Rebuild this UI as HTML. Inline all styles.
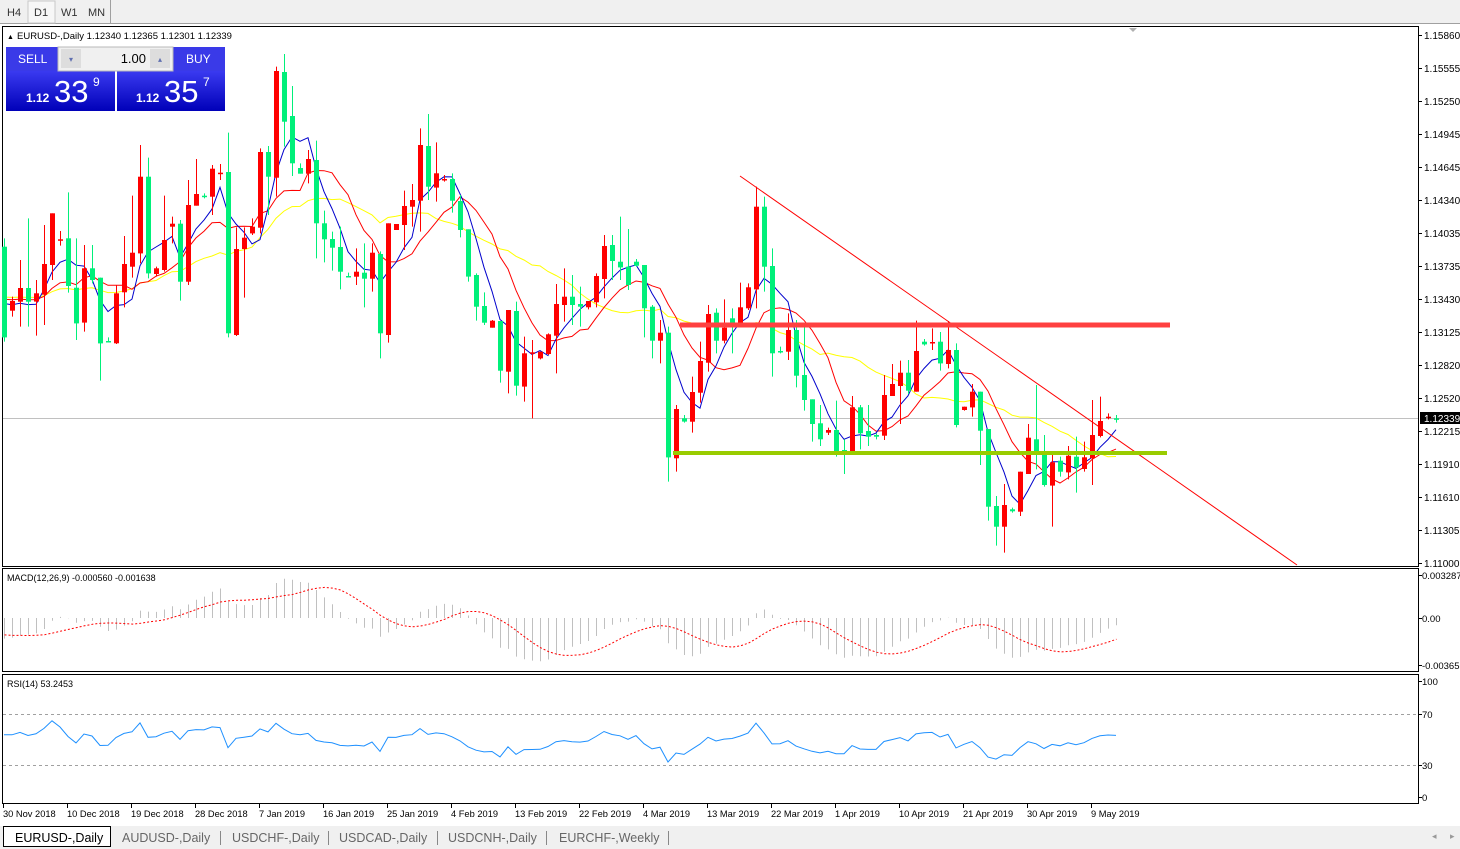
<!DOCTYPE html>
<html><head><meta charset="utf-8">
<style>
html,body{margin:0;padding:0;background:#fff;width:1460px;height:849px;overflow:hidden;font-family:"Liberation Sans",sans-serif}
svg{position:absolute;left:0;top:0}
</style></head><body>
<svg id="s" width="1460" height="849" xmlns="http://www.w3.org/2000/svg" font-family="Liberation Sans, sans-serif">
<rect x="0" y="0" width="1460" height="24" fill="#f0f0f0"/>
<line x1="0" y1="23.5" x2="1460" y2="23.5" stroke="#a0a0a0"/>
<rect x="28" y="1" width="27" height="22" fill="#f7f7f7" stroke="#c8c8c8"/>
<line x1="110.5" y1="0" x2="110.5" y2="24" stroke="#a0a0a0"/>
<text x="7" y="16" font-size="11" fill="#333">H4</text>
<text x="34" y="16" font-size="11" fill="#333">D1</text>
<text x="61" y="16" font-size="11" fill="#333">W1</text>
<text x="88" y="16" font-size="11" fill="#333">MN</text>
<rect x="2.5" y="26.5" width="1416" height="540" fill="none" stroke="#000"/>
<rect x="2.5" y="568.5" width="1416" height="103" fill="none" stroke="#000"/>
<rect x="2.5" y="674.5" width="1416" height="129" fill="none" stroke="#000"/>
<g id="g"></g>
</svg>
<script>
var g=document.getElementById('g'),h='';
function L(a,b,c,d,col,w,extra){h+='<line x1="'+a+'" y1="'+b+'" x2="'+c+'" y2="'+d+'" stroke="'+col+'" stroke-width="'+(w||1)+'" '+(extra||'')+'/>';}
function T(x,y,t,s,col,anchor,extra){h+='<text x="'+x+'" y="'+y+'" font-size="'+s+'" fill="'+(col||'#000')+'"'+(anchor?' text-anchor="'+anchor+'"':'')+' '+(extra||'')+'>'+t+'</text>';}
var z4=[['g',590,862,565,875],['r',753,782,740,800],['r',714,755,630,830],['g',714,755,505,830],['r',730,755,690,857],['r',642,734,525,825],['r',490,645,490,690],['r',568,572,543,587],['g',565,708,427,728],['g',713,820,565,870],['r',655,818,585,845],['g',655,690,585,700],['g',683,880,683,992],['g',873,877,862,877],['r',730,880,705,882],['r',642,727,558,772],['r',608,650,437,683],['r',380,610,285,640],['g',380,670,323,685],['r',655,672,650,680],['r',570,660,437,665],['r',521,530,500,580],['g',521,695,510,752],['r',465,695,390,705],['r',432,467,327,467],['g',437,439,430,445],['r',356,440,345,495],['r',368,372,342,390],['g',366,850,248,862],['r',597,855,532,858],['r',563,597,532,743],['r',530,550,505,555],['r',306,533,295,550],['g',306,380,288,495],['r',63,383,50,440],['g',66,215,12,290],['g',198,340,108,378],['g',354,371,340,371],['r',327,371,300,400],['g',330,520,272,625],['g',520,568,482,637],['g',567,593,545,662],['g',591,665,530,718],['g',678,680,668,680],['r',665,680,595,705],['g',668,686,580,772],['r',608,686,580,725]];
var z5=[['g',462,700,454,775],['r',370,705,370,728],['r',372,390,372,390],['r',318,375,272,450],['r',300,320,252,380],['r',135,302,85,395],['g',138,260,42,300],['r',220,263,127,305],['r',237,239,225,245],['g',237,302,220,338],['g',303,390,285,412],['g',388,530,388,545],['g',525,620,520,662],['g',618,668,577,675],['r',662,683,660,683],['g',663,812,663,848],['r',630,815,630,880],['g',633,857,605,887],['r',760,860,710,905],['r',757,761,720,955],['r',755,775,755,778],['r',703,762,700,765],['r',612,707,552,820],['r',590,615,505,665],['g',590,615,525,675],['g',612,620,560,680],['r',603,622,603,628],['r',528,607,520,622],['r',438,537,405,595],['g',435,483,405,540],['g',485,502,350,540],['g',500,555,387,570],['g',485,497,477,500],['g',495,625,495,712],['g',620,722,615,775],['r',698,722,660,790],['g',698,1072,680,1145],['r',927,1075,915,1115],['g',955,965,945,968],['r',876,965,830,998],['r',783,878,725,908],['r',642,788,615,815],['g',638,722,625,760],['r',683,722,598,730],['g',655,670,625,760],['r',622,670,548,672]];
var z6=[['r',352,415,340,420],['r',110,358,50,415],['g',110,290,80,365],['g',288,550,235,620],['g',543,547,530,550],['r',480,545,430,570],['g',480,617,450,652],['g',615,690,460,722],['g',688,762,688,815],['g',760,808,705,828],['r',780,788,773,795],['g',780,845,692,860],['g',840,845,808,912],['r',712,845,678,845],['g',712,790,705,838],['g',783,800,705,828],['g',795,800,790,808],['r',675,797,615,810],['r',642,678,582,678],['r',608,648,572,762],['g',608,662,570,672],['r',543,665,452,665],['g',515,523,507,527],['r',516,520,475,540],['g',515,580,486,602],['r',540,582,453,595],['g',540,765,520,772],['r',710,720,710,722],['r',665,712,642,740],['g',665,782,665,885],['g',777,1010,777,1052],['g',1008,1070,978,1127],['r',1005,1070,942,1148],['g',1018,1024,1013,1028],['r',905,1025,905,1038],['r',803,912,762,912],['g',808,845,645,898],['g',845,945,795,950],['r',877,947,855,1070],['g',872,905,860,920],['r',857,907,828,928],['g',860,892,800,968],['r',862,897,815,905],['r',795,865,690,945],['r',753,798,680,802],['r',740,743,730,748],['g',745,746,735,758]];
var C=[];
function add(arr,off){arr.forEach(function(a){C.push([a[0],a[1]/3+off,a[2]/3+off,a[3]/3+off,a[4]/3+off]);});}
add(z4,50);add(z5,100);add(z6,170);
function P(y){return 1.11+(563-y)/10864;}
var closes=[];var N0=60;
for(var k=0;k<N0;k++)closes.push(P(180+k*2.0+((k%2)?12:-12)));
C.forEach(function(c){closes.push(P(c[0]=='r'?c[1]:c[2]));});
function ema(arr,n){var a=2/(n+1),o=[arr[0]];for(var i=1;i<arr.length;i++)o.push(o[i-1]+a*(arr[i]-o[i-1]));return o;}
function sma(arr,n){var o=[];for(var i=0;i<arr.length;i++){var s=0,m=0;for(var j=Math.max(0,i-n+1);j<=i;j++){s+=arr[j];m++;}o.push(s/m);}return o;}
function Y(p){return 563-(p-1.11)*10864;}
function X(i){return 4+8*i;}
L(3,418.5,1418,418.5,'#c0c0c0');
function poly(arr,col,st){var pts=[];for(var i=(st||N0);i<arr.length;i++)pts.push(X(i-N0)+','+Y(arr[i]).toFixed(1));h+='<polyline points="'+pts.join(' ')+'" fill="none" stroke="'+col+'" stroke-width="1"/>';}
// MAs: use real data only (prehistory replaced by first close) for price MAs
var cm=closes.slice();for(var k=0;k<N0;k++)cm[k]=P(295);
poly(sma(cm,20),'#ffff00');poly(sma(cm,10),'#ff0000');poly(sma(cm,5),'#0000cc');
C.forEach(function(c,i){var x=X(i),col=c[0]=='r'?'#ff0000':'#00f07a';L(x+0.5,c[3],x+0.5,c[4],col);var t=c[1],b=Math.max(c[2],c[1]+1.5);h+='<rect x="'+(x-2)+'" y="'+t.toFixed(1)+'" width="5" height="'+(b-t).toFixed(1)+'" fill="'+col+'"/>';});
L(740,176,1297,565,'#ff0000',1);
L(680,325,1170,325,'#ff4040',5);
L(673,453,1167,453,'#99cc00',4);
var pl=[['1.15860',35],['1.15555',68],['1.15250',101],['1.14945',134],['1.14645',167],['1.14340',200],['1.14035',233],['1.13735',266],['1.13430',299],['1.13125',332],['1.12820',365],['1.12520',398],['1.12215',431],['1.11910',464],['1.11610',497],['1.11305',530],['1.11000',563]];
pl.forEach(function(p){L(1418,p[1]+0.5,1422,p[1]+0.5,'#000');T(1424,p[1]+4,p[0],10);});
h+='<rect x="1420" y="412" width="40" height="12" fill="#000"/>';T(1424,422,'1.12339',10,'#fff');
h+='<polygon points="1129,28 1137,28 1133,32" fill="#b0b0b0"/>';
// MACD
var e12=ema(closes,12),e26=ema(closes,26),m=[];for(var i=0;i<closes.length;i++)m.push(e12[i]-e26[i]);
var sg=sma(m,9);
function MY(v){return Math.max(570,Math.min(670,618-v*12957));}
var sp=[];
for(var i=N0;i<closes.length;i++){var x=X(i-N0)+0.5;L(x,618,x,MY(m[i]).toFixed(1),'#c0c0c0');sp.push(x+','+MY(sg[i]).toFixed(1));}
h+='<polyline points="'+sp.join(' ')+'" fill="none" stroke="#ff0000" stroke-width="1" stroke-dasharray="2,2"/>';
T(7,581,'MACD(12,26,9) -0.000560 -0.001638',9);
[['0.003287',575],['0.00',618],['-0.003659',665]].forEach(function(p){L(1418,p[1]+0.5,1422,p[1]+0.5,'#000');T(1422,p[1]+4,p[0],9.5);});
// RSI on real data with seeds
var ag=0.0009,al=0.0010,rs=[];
for(var i=N0+1;i<closes.length;i++){var d=closes[i]-closes[i-1];var gn=d>0?d:0,ls=d<0?-d:0;ag=(ag*13+gn)/14;al=(al*13+ls)/14;rs[i]=100-100/(1+ag/al);}
rs[N0]=rs[N0+1];
L(3,714.5,1418,714.5,'#a0a0a0',1,'stroke-dasharray="3,3"');
L(3,765.5,1418,765.5,'#a0a0a0',1,'stroke-dasharray="3,3"');
var rp=[];for(var i=N0;i<closes.length;i++)rp.push(X(i-N0)+','+(797-rs[i]*1.16).toFixed(1));
h+='<polyline points="'+rp.join(' ')+'" fill="none" stroke="#1e90ff" stroke-width="1"/>';
T(7,687,'RSI(14) 53.2453',9);
[['100',681],['70',714],['30',765],['0',797]].forEach(function(p){L(1418,p[1]+0.5,1422,p[1]+0.5,'#000');T(1422,p[1]+4,p[0],9.5);});
var dl=['30 Nov 2018','10 Dec 2018','19 Dec 2018','28 Dec 2018','7 Jan 2019','16 Jan 2019','25 Jan 2019','4 Feb 2019','13 Feb 2019','22 Feb 2019','4 Mar 2019','13 Mar 2019','22 Mar 2019','1 Apr 2019','10 Apr 2019','21 Apr 2019','30 Apr 2019','9 May 2019'];
dl.forEach(function(d,i){var x=3+64*i;L(x+0.5,804,x+0.5,808,'#000');T(x,817,d,9.3);});
h+='<rect x="0" y="826" width="1460" height="23" fill="#f0f0f0"/>';
h+='<rect x="3.5" y="826.5" width="107" height="20" fill="#fff" stroke="#000"/>';
T(15,842,'EURUSD-,Daily',12.5,'#000');
var tb=[['AUDUSD-,Daily',122],['USDCHF-,Daily',232],['USDCAD-,Daily',339],['USDCNH-,Daily',448],['EURCHF-,Weekly',559]];
tb.forEach(function(t){T(t[1],842,t[0],12.5,'#666');});
[220,328,437,546,668].forEach(function(x){L(x+0.5,831,x+0.5,845,'#888');});
T(1432,839,'◂',9,'#999');T(1450,839,'▸',9,'#999');
T(7,39,'▲',7);T(17,39,'EURUSD-,Daily  1.12340 1.12365 1.12301 1.12339',9.5);
h+='<defs><linearGradient id="bl" x1="0" y1="0" x2="0" y2="1"><stop offset="0" stop-color="#3a3af0"/><stop offset="1" stop-color="#0000b8"/></linearGradient></defs>';
h+='<rect x="6" y="47" width="52" height="24" fill="#3a3ae8"/><rect x="173" y="47" width="52" height="24" fill="#3a3ae8"/>';
h+='<rect x="6" y="71" width="109" height="40" fill="url(#bl)"/><rect x="117" y="71" width="108" height="40" fill="url(#bl)"/>';
h+='<rect x="58" y="47" width="115" height="24" fill="#f0f0f0" stroke="#b8b8b8"/><rect x="61" y="49" width="20" height="19" fill="#ddd"/><rect x="150" y="49" width="20" height="19" fill="#ddd"/>';
T(71,62,'▾',8,'#6070b0','middle');T(160,62,'▴',8,'#6070b0','middle');
T(146,63,'1.00',13,'#000','end');
T(18,63,'SELL',12,'#fff');T(186,63,'BUY',12,'#fff');
T(26,102,'1.12',12,'#fff','', 'font-weight="bold"');T(54,102,'33',31,'#fff');T(93,86,'9',12,'#fff');
T(136,102,'1.12',12,'#fff','', 'font-weight="bold"');T(164,102,'35',31,'#fff');T(203,86,'7',12,'#fff');
g.innerHTML=h;
</script>
</body></html>
